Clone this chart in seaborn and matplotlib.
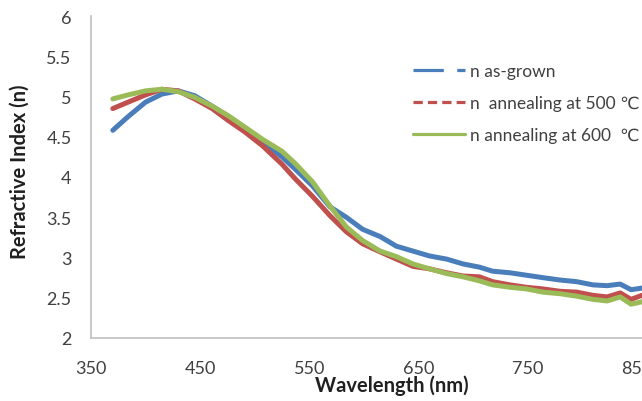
import matplotlib
matplotlib.use("Agg")
import matplotlib.pyplot as plt
import seaborn as sns
import pandas as pd
from matplotlib.lines import Line2D

# ---- data ----
wavelength = [370, 384, 400, 415, 430, 445, 461, 476, 491, 507, 525, 537, 553, 569,
              584, 599, 615, 630, 645, 660, 676, 691, 706, 718, 734, 749, 764, 780,
              795, 810, 823, 835, 845, 855]
n_as_grown = [4.58, 4.75, 4.93, 5.03, 5.07, 5.01, 4.88, 4.75, 4.60, 4.44, 4.25, 4.10,
              3.89, 3.63, 3.50, 3.35, 3.26, 3.14, 3.08, 3.02, 2.98, 2.92, 2.88, 2.83,
              2.81, 2.78, 2.75, 2.72, 2.70, 2.66, 2.65, 2.67, 2.60, 2.62]
n_500 = [4.85, 4.93, 5.02, 5.09, 5.07, 4.97, 4.85, 4.70, 4.56, 4.39, 4.16, 3.98,
         3.76, 3.52, 3.32, 3.17, 3.07, 2.98, 2.89, 2.86, 2.81, 2.77, 2.76, 2.70,
         2.66, 2.63, 2.61, 2.58, 2.57, 2.53, 2.51, 2.56, 2.48, 2.53]
n_600 = [4.97, 5.02, 5.07, 5.09, 5.06, 4.99, 4.88, 4.76, 4.62, 4.47, 4.32, 4.17,
         3.94, 3.64, 3.38, 3.21, 3.08, 3.01, 2.92, 2.86, 2.80, 2.76, 2.71, 2.66,
         2.63, 2.61, 2.57, 2.55, 2.52, 2.48, 2.46, 2.51, 2.42, 2.45]
series_labels = ["n as-grown", "n  annealing at 500 \u2103", "n annealing at 600  \u2103"]
x_ticks = [350, 450, 550, 650, 750, 850]
y_ticks = [2, 2.5, 3, 3.5, 4, 4.5, 5, 5.5, 6]
y_tick_labels = ["2", "2.5", "3", "3.5", "4", "4.5", "5", "5.5", "6"]
colors = ["#4A7EBB", "#C0504D", "#9BBB59"]

df = pd.concat([
    pd.DataFrame({"wavelength": wavelength, "n": vals, "series": lab})
    for vals, lab in zip([n_as_grown, n_500, n_600], series_labels)
])

sns.set_theme(style="white")
plt.rcParams["font.family"] = ["Lato", "DejaVu Sans"]

fig = plt.figure(figsize=(6.42, 4.02), dpi=100)
ax = fig.add_axes([91 / 642, 1 - 339 / 402, 551 / 642, 322 / 402])

sns.lineplot(data=df, x="wavelength", y="n", hue="series",
             palette=dict(zip(series_labels, colors)), hue_order=series_labels,
             linewidth=3.6, legend=False, ax=ax, sort=False)

ax.set_xlim(350, 855)
ax.set_ylim(2, 6)
ax.set_xticks(x_ticks)
ax.set_yticks(y_ticks)
ax.set_yticklabels(y_tick_labels)
ax.tick_params(axis="both", length=0, labelsize=13, colors="#404040")
ax.tick_params(axis="x", pad=16)
ax.tick_params(axis="y", pad=14)
ax.set_xlabel("")
ax.set_ylabel("")
for s in ["top", "right"]:
    ax.spines[s].set_visible(False)
for s in ["left", "bottom"]:
    ax.spines[s].set_color("#BFBFBF")
    ax.spines[s].set_linewidth(1.2)

fig.text(392 / 642, 1 - 386 / 402, "Wavelength (nm)", ha="center", va="center",
         fontsize=14.5, fontweight="bold", color="#202020")
fig.text(20 / 642, 1 - 172 / 402, "Refractive Index (n)", ha="center", va="center",
         rotation=90, fontsize=14.5, fontweight="bold", color="#202020")

handles = [
    Line2D([], [], color=colors[0], lw=2.3, linestyle=(0, (9.5, 4.2, 3.3, 20))),
    Line2D([], [], color=colors[1], lw=2.3, linestyle=(0, (2.9, 1.6))),
    Line2D([], [], color=colors[2], lw=2.3, linestyle="-"),
]
leg = ax.legend(handles, series_labels, loc="upper left",
                bbox_to_anchor=((413 - 91) / 551, (339 - 64) / 322),
                frameon=False, fontsize=12.5, handlelength=3.0, handletextpad=0.3,
                labelspacing=0.92, borderaxespad=0, borderpad=0)
for t in leg.get_texts():
    t.set_color("#404040")

fig.savefig("out.png", dpi=100)
